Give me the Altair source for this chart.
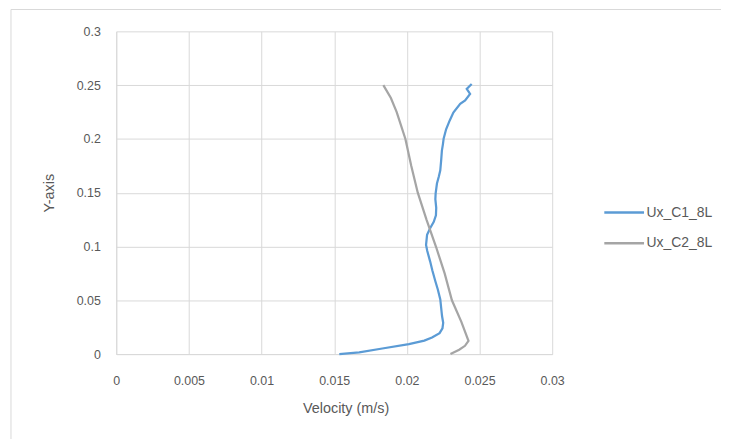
import altair as alt
import pandas as pd

# Ux_C1_8L (blue) : velocity vs height
c1_vel = [0.01535, 0.01672, 0.01831, 0.02014, 0.02120, 0.02173, 0.02225, 0.02245, 0.02250,
          0.02242, 0.0223, 0.02213, 0.02196, 0.02175, 0.0216, 0.02140, 0.02132, 0.02139,
          0.02160, 0.02185, 0.02200, 0.02202, 0.02196, 0.02198, 0.02207, 0.02220, 0.0223,
          0.02236, 0.02241, 0.02248, 0.02253, 0.02270, 0.02295, 0.0232, 0.02367, 0.02401,
          0.02435, 0.02412, 0.02446]
c1_y = [0.0, 0.0015, 0.0052, 0.0092, 0.0125, 0.0154, 0.0195, 0.0240, 0.0290,
        0.0354, 0.0508, 0.0600, 0.0677, 0.0780, 0.0862, 0.0960, 0.1015, 0.1108,
        0.1170, 0.1230, 0.1290, 0.1360, 0.1440, 0.1493, 0.1585, 0.1650, 0.1708,
        0.1800, 0.1892, 0.1950, 0.2003, 0.2090, 0.2172, 0.2245, 0.2326, 0.2357,
        0.2418, 0.2465, 0.2511]

# Ux_C2_8L (gray)
c2_vel = [0.0230, 0.0236, 0.0240, 0.02424, 0.02375, 0.0231, 0.0226, 0.0220, 0.02135,
          0.02075, 0.0203, 0.0199, 0.0193, 0.0189, 0.01838]
c2_y = [0.0, 0.0040, 0.0077, 0.0123, 0.0300, 0.0500, 0.0750, 0.1000, 0.1250,
        0.1500, 0.1750, 0.2000, 0.2250, 0.2380, 0.2500]

series = ["Ux_C1_8L", "Ux_C2_8L"]
colors = ["#5B9BD5", "#A5A5A5"]
x_ticks = [0, 0.005, 0.01, 0.015, 0.02, 0.025, 0.03]
y_ticks = [0, 0.05, 0.1, 0.15, 0.2, 0.25, 0.3]

rows = []
for i, (v, y) in enumerate(zip(c1_vel, c1_y)):
    rows.append({"series": series[0], "vel": v, "y": y, "i": i})
for i, (v, y) in enumerate(zip(c2_vel, c2_y)):
    rows.append({"series": series[1], "vel": v, "y": y, "i": i})
df = pd.DataFrame(rows)

FONT = "Liberation Sans"
TXT = "#595959"
GRID = "#D9D9D9"

lines = alt.Chart(df).mark_line(strokeWidth=2.25).encode(
    x=alt.X("vel:Q", scale=alt.Scale(domain=[0, 0.03], nice=False),
            axis=alt.Axis(values=x_ticks, format="~g", title="Velocity (m/s)",
                          grid=True, gridColor=GRID, domainColor=GRID, ticks=False,
                          labelFlush=False, labelOverlap=False,
                          labelPadding=21, labelColor=TXT, labelFontSize=12.5, labelFont=FONT,
                          titleColor=TXT, titleFontSize=14.5, titleFont=FONT, titleFontWeight="normal",
                          titleX=231, titleY=48)),
    y=alt.Y("y:Q", scale=alt.Scale(domain=[0, 0.3], nice=False),
            axis=alt.Axis(values=y_ticks, format="~g", title="Y-axis",
                          grid=True, gridColor=GRID, domainColor=GRID, ticks=False,
                          labelFlush=False, labelOverlap=False,
                          labelPadding=16, labelColor=TXT, labelFontSize=12.5, labelFont=FONT,
                          titleColor=TXT, titleFontSize=14.5, titleFont=FONT, titleFontWeight="normal",
                          titleX=-60, titleY=162.5)),
    color=alt.Color("series:N", scale=alt.Scale(domain=series, range=colors),
                    legend=alt.Legend(title=None, orient="none", legendX=490, legendY=161,
                                      symbolType="stroke", symbolSize=1600, symbolStrokeWidth=2.5,
                                      labelFontSize=14, labelFont=FONT, labelColor=TXT,
                                      labelOffset=1, rowPadding=2)),
    order=alt.Order("i:Q"),
    detail="series:N",
)

frame = alt.Chart(pd.DataFrame({"a": [0]})).mark_rect(
    fillOpacity=0, stroke=GRID, strokeWidth=1
).encode(x=alt.value(-106), x2=alt.value(700), y=alt.value(-22), y2=alt.value(500))

chart = alt.layer(frame, lines).properties(
    width=439, height=325,
    autosize=alt.AutoSizeParams(type="none"),
    padding={"left": 109, "top": 22, "right": 170, "bottom": 84},
).configure_view(stroke=None)

chart.save("out.html", embed_options={"renderer": "svg", "actions": False})
